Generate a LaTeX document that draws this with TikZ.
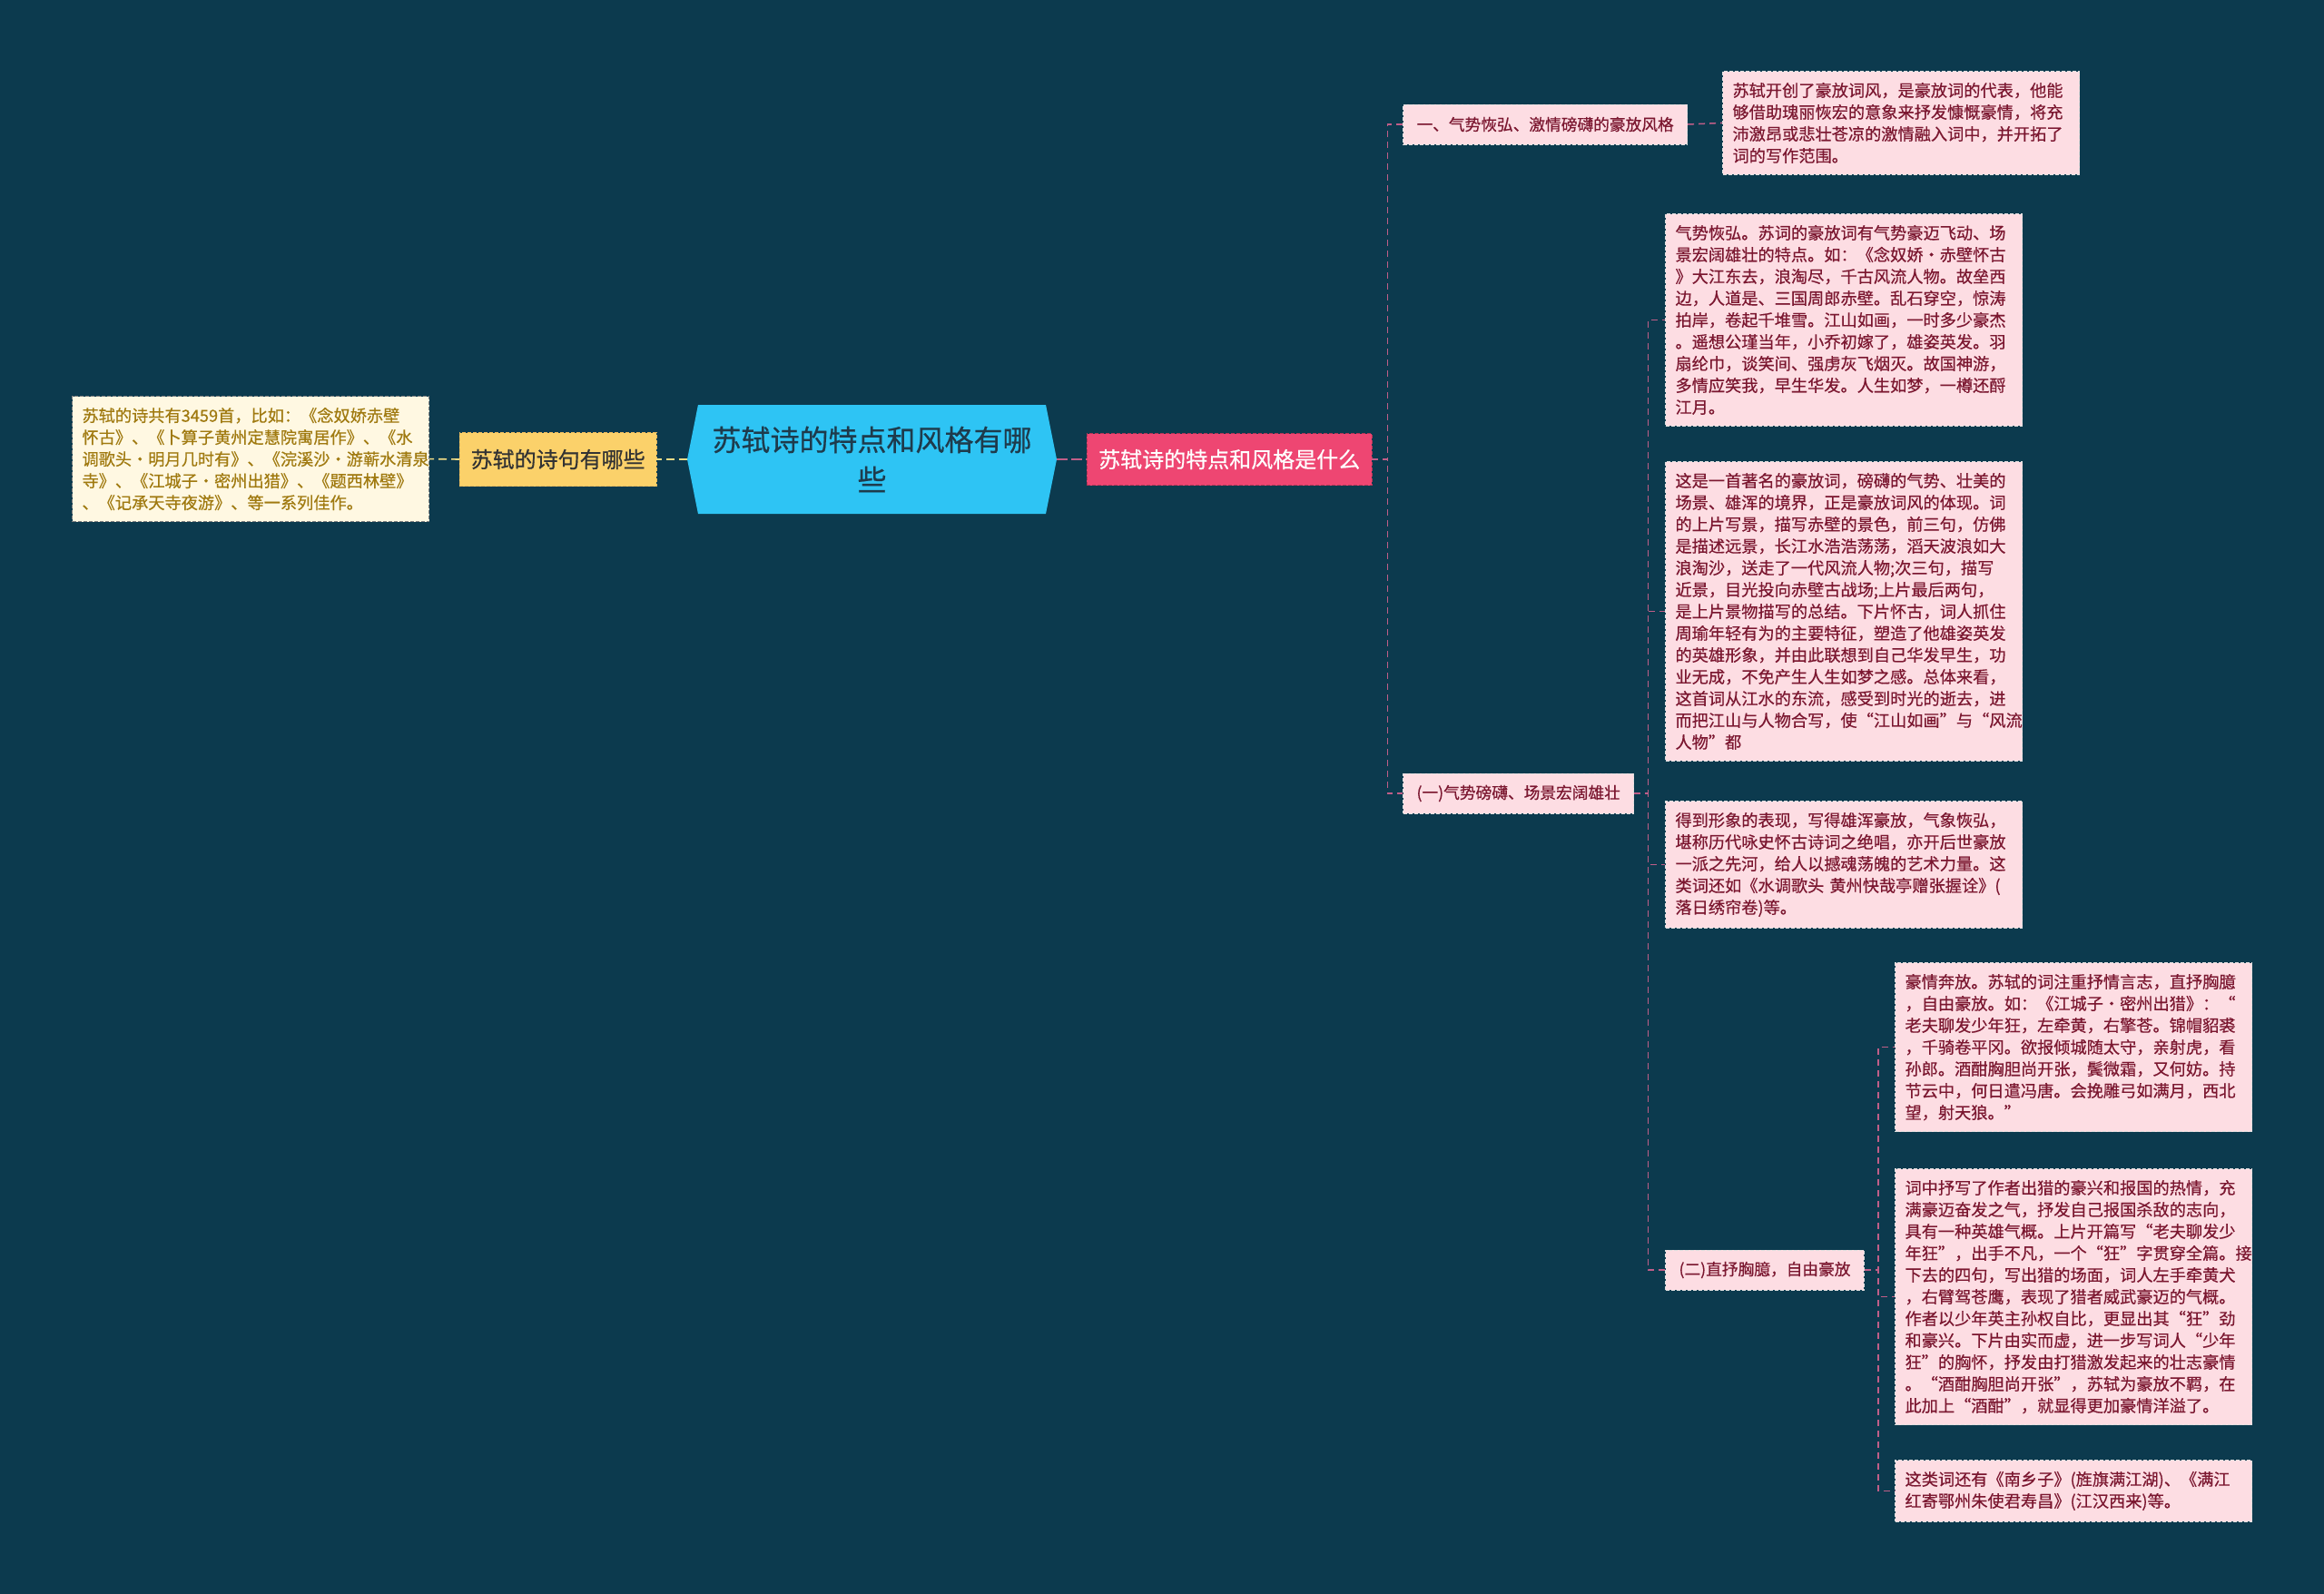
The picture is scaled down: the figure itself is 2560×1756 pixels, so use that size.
\documentclass[tikz,border=0pt]{standalone}
\usepackage{fontspec}
\setmainfont{Noto Sans CJK SC}[FakeBold=0.5]
\usetikzlibrary{positioning,shapes.symbols,calc}
\definecolor{bgc}{HTML}{0C3A4E}
\definecolor{rootc}{HTML}{2EC4F4}
\definecolor{roottext}{HTML}{1E3B4C}
\definecolor{redc}{HTML}{EE4672}
\definecolor{yellc}{HTML}{FBD16A}
\definecolor{creamc}{HTML}{FFF8E2}
\definecolor{goldtext}{HTML}{A07A10}
\definecolor{pinkc}{HTML}{FDDDE3}
\definecolor{pinktext}{HTML}{7B1730}
\definecolor{pinkline}{HTML}{C05E88}
\definecolor{yellline}{HTML}{F2DC86}

\begin{document}
\begin{tikzpicture}[x=1pt,y=-1pt,
  leaf/.style={draw=white!75!gray,dash pattern=on 4pt off 2pt,line width=1pt,fill=pinkc,text=pinktext,
    anchor=north west,align=left,text width=371pt,inner xsep=11pt,inner ysep=12.5pt,
    font=\fontsize{18.2}{24}\selectfont},
  branch/.style={draw=white!75!gray,dash pattern=on 4pt off 2pt,line width=1pt,fill=pinkc,text=pinktext,
    anchor=west,inner xsep=15pt,minimum height=44pt,font=\fontsize{17.7}{24}\selectfont},
  link/.style={draw=pinkline,line width=1.5pt,dash pattern=on 7pt off 5pt},
  ylink/.style={draw=yellline,line width=1.6pt,dash pattern=on 9pt off 5pt}]
\path[use as bounding box,fill=bgc] (0,0) rectangle (2560,1756);

% centre and first level
\node[signal,signal to=west and east,signal pointer angle=157.4,fill=rootc,text=roottext,
  minimum width=407pt,minimum height=120pt,inner sep=0pt,align=center,
  font=\fontsize{32}{44}\selectfont] (root) at (960.5,506) {苏轼诗的特点和风格有哪\\些};
\node[draw=yellc!70!brown,dash pattern=on 4pt off 2pt,fill=yellc,text=black!80,anchor=west,
  minimum width=217pt,minimum height=59pt,font=\fontsize{24}{30}\selectfont] (sub) at (506,506) {苏轼的诗句有哪些};
\node[draw=redc!75!black,dash pattern=on 4pt off 2pt,fill=redc,text=white,anchor=west,
  inner xsep=13pt,minimum height=57pt,font=\fontsize{24}{30}\selectfont] (what) at (1197,506) {苏轼诗的特点和风格是什么};

% left side
\node[leaf,draw=gray,fill=creamc,text=goldtext] (poems) at (79,436) {苏轼的诗共有3459首，比如：《念奴娇赤壁\\
怀古》、《卜算子黄州定慧院寓居作》、《水\\
调歌头·明月几时有》、《浣溪沙·游蕲水清泉\\
寺》、《江城子·密州出猎》、《题西林壁》\\
、《记承天寺夜游》、等一系列佳作。};

% right side
\node[branch] (b1) at (1545,137) {一、气势恢弘、激情磅礴的豪放风格};
\node[branch] (b2) at (1545,874) {(一)气势磅礴、场景宏阔雄壮};
\node[branch] (b3) at (1834,1399) {(二)直抒胸臆，自由豪放};

\node[leaf] (l0) at (1897,78) {苏轼开创了豪放词风，是豪放词的代表，他能\\
够借助瑰丽恢宏的意象来抒发慷慨豪情，将充\\
沛激昂或悲壮苍凉的激情融入词中，并开拓了\\
词的写作范围。};
\node[leaf] (l1) at (1834,235) {气势恢弘。苏词的豪放词有气势豪迈飞动、场\\
景宏阔雄壮的特点。如：《念奴娇·赤壁怀古\\
》大江东去，浪淘尽，千古风流人物。故垒西\\
边，人道是、三国周郎赤壁。乱石穿空，惊涛\\
拍岸，卷起千堆雪。江山如画，一时多少豪杰\\
。遥想公瑾当年，小乔初嫁了，雄姿英发。羽\\
扇纶巾，谈笑间、强虏灰飞烟灭。故国神游，\\
多情应笑我，早生华发。人生如梦，一樽还酹\\
江月。};
\node[leaf] (l2) at (1834,508) {这是一首著名的豪放词，磅礴的气势、壮美的\\
场景、雄浑的境界，正是豪放词风的体现。词\\
的上片写景，描写赤壁的景色，前三句，仿佛\\
是描述远景，长江水浩浩荡荡，滔天波浪如大\\
浪淘沙，送走了一代风流人物;次三句，描写\\
近景，目光投向赤壁古战场;上片最后两句，\\
是上片景物描写的总结。下片怀古，词人抓住\\
周瑜年轻有为的主要特征，塑造了他雄姿英发\\
的英雄形象，并由此联想到自己华发早生，功\\
业无成，不免产生人生如梦之感。总体来看，\\
这首词从江水的东流，感受到时光的逝去，进\\
而把江山与人物合写，使“江山如画”与“风流\\
人物”都};
\node[leaf] (l3) at (1834,882) {得到形象的表现，写得雄浑豪放，气象恢弘，\\
堪称历代咏史怀古诗词之绝唱，亦开后世豪放\\
一派之先河，给人以撼魂荡魄的艺术力量。这\\
类词还如《水调歌头 黄州快哉亭赠张握诠》(\\
落日绣帘卷)等。};
\node[leaf] (l4) at (2087,1060) {豪情奔放。苏轼的词注重抒情言志，直抒胸臆\\
，自由豪放。如：《江城子·密州出猎》：“\\
老夫聊发少年狂，左牵黄，右擎苍。锦帽貂裘\\
，千骑卷平冈。欲报倾城随太守，亲射虎，看\\
孙郎。酒酣胸胆尚开张，鬓微霜，又何妨。持\\
节云中，何日遣冯唐。会挽雕弓如满月，西北\\
望，射天狼。”};
\node[leaf] (l5) at (2087,1287) {词中抒写了作者出猎的豪兴和报国的热情，充\\
满豪迈奋发之气，抒发自己报国杀敌的志向，\\
具有一种英雄气概。上片开篇写“老夫聊发少\\
年狂”，出手不凡，一个“狂”字贯穿全篇。接\\
下去的四句，写出猎的场面，词人左手牵黄犬\\
，右臂驾苍鹰，表现了猎者威武豪迈的气概。\\
作者以少年英主孙权自比，更显出其“狂”劲\\
和豪兴。下片由实而虚，进一步写词人“少年\\
狂”的胸怀，抒发由打猎激发起来的壮志豪情\\
。“酒酣胸胆尚开张”，苏轼为豪放不羁，在\\
此加上“酒酣”，就显得更加豪情洋溢了。};
\node[leaf] (l6) at (2087,1608) {这类词还有《南乡子》(旌旗满江湖)、《满江\\
红寄鄂州朱使君寿昌》(江汉西来)等。};

% connectors
\draw[ylink] (root.west) -- (sub.east);
\draw[ylink] (sub.west) -- (poems.east);
\draw[link,dash pattern=on 12pt off 4pt] (root.east) -- (what.west);
\draw[link] (what.east) -- ++(17,0) |- (b1.west);
\draw[link] (what.east) -- ++(17,0) |- (b2.west);
\draw[link] (b1.east) -- (l0.west);
\draw[link] (b2.east) -- ++(15,0) |- (l1.west);
\draw[link] (b2.east) -- ++(15,0) |- (l2.west);
\draw[link] (b2.east) -- ++(15,0) |- (l3.west);
\draw[link] (b2.east) -- ++(15,0) |- (b3.west);
\draw[link] (b3.east) -- ++(15,0) |- (l4.west);
\draw[link] (b3.east) -- ++(15,0) |- (l5.west);
\draw[link] (b3.east) -- ++(15,0) |- (l6.west);
\end{tikzpicture}
\end{document}
